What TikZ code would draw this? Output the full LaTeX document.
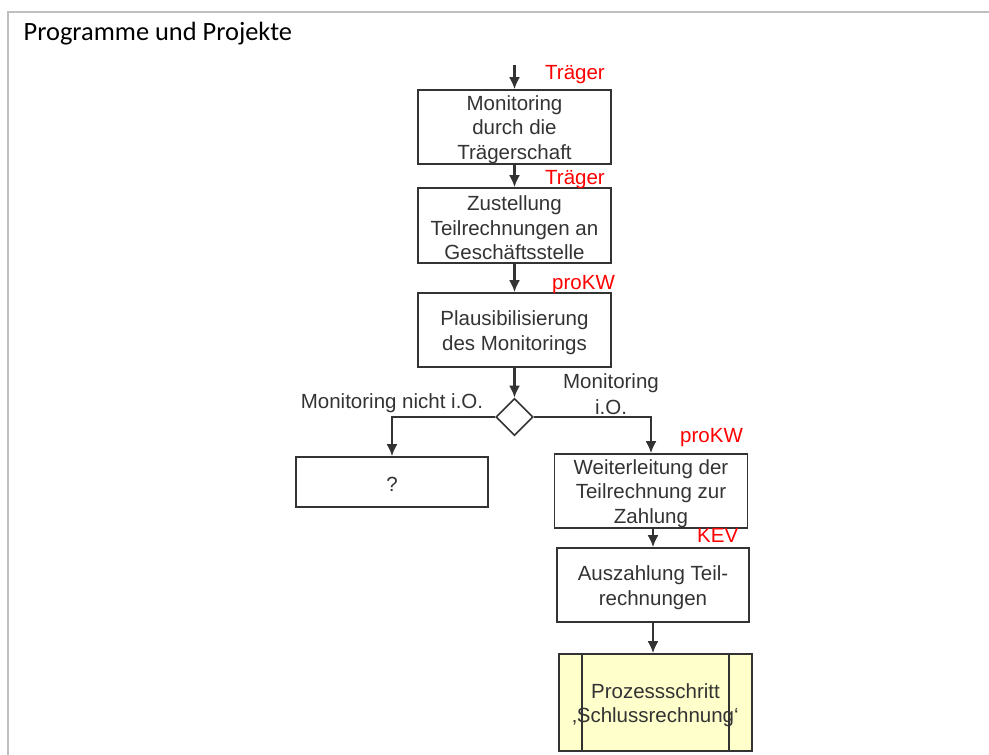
\documentclass[tikz,border=0pt]{standalone}
\usepackage{fontspec}
\setmainfont{Liberation Sans}
\newfontfamily\titlefont{Carlito}
\usetikzlibrary{shapes.geometric,arrows.meta}
\definecolor{ink}{HTML}{333333}
\definecolor{framegray}{HTML}{BFBFBF}
\definecolor{procfill}{HTML}{FFFFCC}
\begin{document}
\begin{tikzpicture}[x=1pt,y=-1pt,
  stepbox/.style={draw=ink,line width=1.6pt,rectangle,inner sep=0pt,minimum width=193pt},
  steptext/.style={inner sep=0pt,align=center,text=ink,yshift=-2.6pt,
    font=\fontsize{20.5}{24.5}\selectfont},
  decision/.style={draw=ink,line width=1.6pt,diamond,aspect=1,inner sep=0pt,
    minimum width=37pt,minimum height=37pt,fill=white},
  flow/.style={draw=ink,line width=2.2pt,-{Latex[length=12pt,width=11pt]}},
  role/.style={text=red,anchor=base west,inner sep=0pt,font=\fontsize{20.5}{24.5}\selectfont},
  cond/.style={text=ink,inner sep=0pt,align=center,font=\fontsize{20.5}{26}\selectfont}]
\useasboundingbox (0,0) rectangle (989,755);
% frame of the section
\draw[framegray,line width=2pt] (8.3,755) -- (8.3,12.3) -- (989,12.3);
\node[anchor=base west,inner sep=0pt,font=\titlefont\fontsize{26.4}{30}\selectfont] (title) at (23.5,40.7) {Programme und Projekte};

% process steps (boxes)
\coordinate (start) at (514.5,65);
\node[stepbox,minimum height=74pt] (b1) at (514.5,127) {};
\node[stepbox,minimum height=75pt] (b2) at (514.5,225.5) {};
\node[stepbox,minimum height=74pt] (b3) at (514.5,330) {};
\node[decision] (d) at (514.5,417) {};
\node[stepbox,minimum width=192pt,minimum height=50pt] (bq) at (392,482) {};
\node[stepbox,minimum height=74pt] (b4) at (651,491) {};
\node[stepbox,minimum width=192pt,minimum height=74pt] (b5) at (653,585) {};
\node[stepbox,fill=procfill,minimum height=97pt] (b6) at (655.5,702.5) {};
\draw[ink,line width=1.6pt] ([xshift=24pt]b6.north west) -- ([xshift=24pt]b6.south west)
  ([xshift=-24pt]b6.north east) -- ([xshift=-24pt]b6.south east);

% process steps (texts)
\node[steptext] (t1) at (b1) {Monitoring\\durch die\\Trägerschaft};
\node[steptext] (t2) at (b2) {Zustellung\\Teilrechnungen an\\Geschäftsstelle};
\node[steptext] (t3) at (b3) {Plausibilisierung\\des Monitorings};
\node[steptext] (tq) at (bq) {?};
\node[steptext] (t4) at (b4) {Weiterleitung der\\Teilrechnung zur\\Zahlung};
\node[steptext] (t5) at (b5) {Auszahlung Teil-\\rechnungen};
\node[steptext] (t6) at (b6) {Prozessschritt\\‚Schlussrechnung‘};

% responsibilities
\node[role] (r1) at (545,79.5) {Träger};
\node[role] (r2) at (545,184.5) {Träger};
\node[role] (r3) at (552,289) {proKW};
\node[role] (r4) at (680,442) {proKW};
\node[role] (r5) at (697,542) {KEV};

% branch conditions
\node[cond] (c1) at (392,403) {Monitoring nicht i.O.};
\node[cond] (c2) at (611,394.5) {Monitoring\\i.O.};

% connectors
\draw[flow] (start) -- (b1);
\draw[flow] (b1) -- (b2);
\draw[flow] (b2) -- (b3);
\draw[flow] (b3) -- (d);
\draw[flow] (d.west) -| (bq.north);
\draw[flow] (d.east) -| (b4.north);
\draw[flow] (b4.south -| b5.north) -- (b5.north);
\draw[flow] (b5.south) -- (b5.south |- b6.north);
\end{tikzpicture}
\end{document}
